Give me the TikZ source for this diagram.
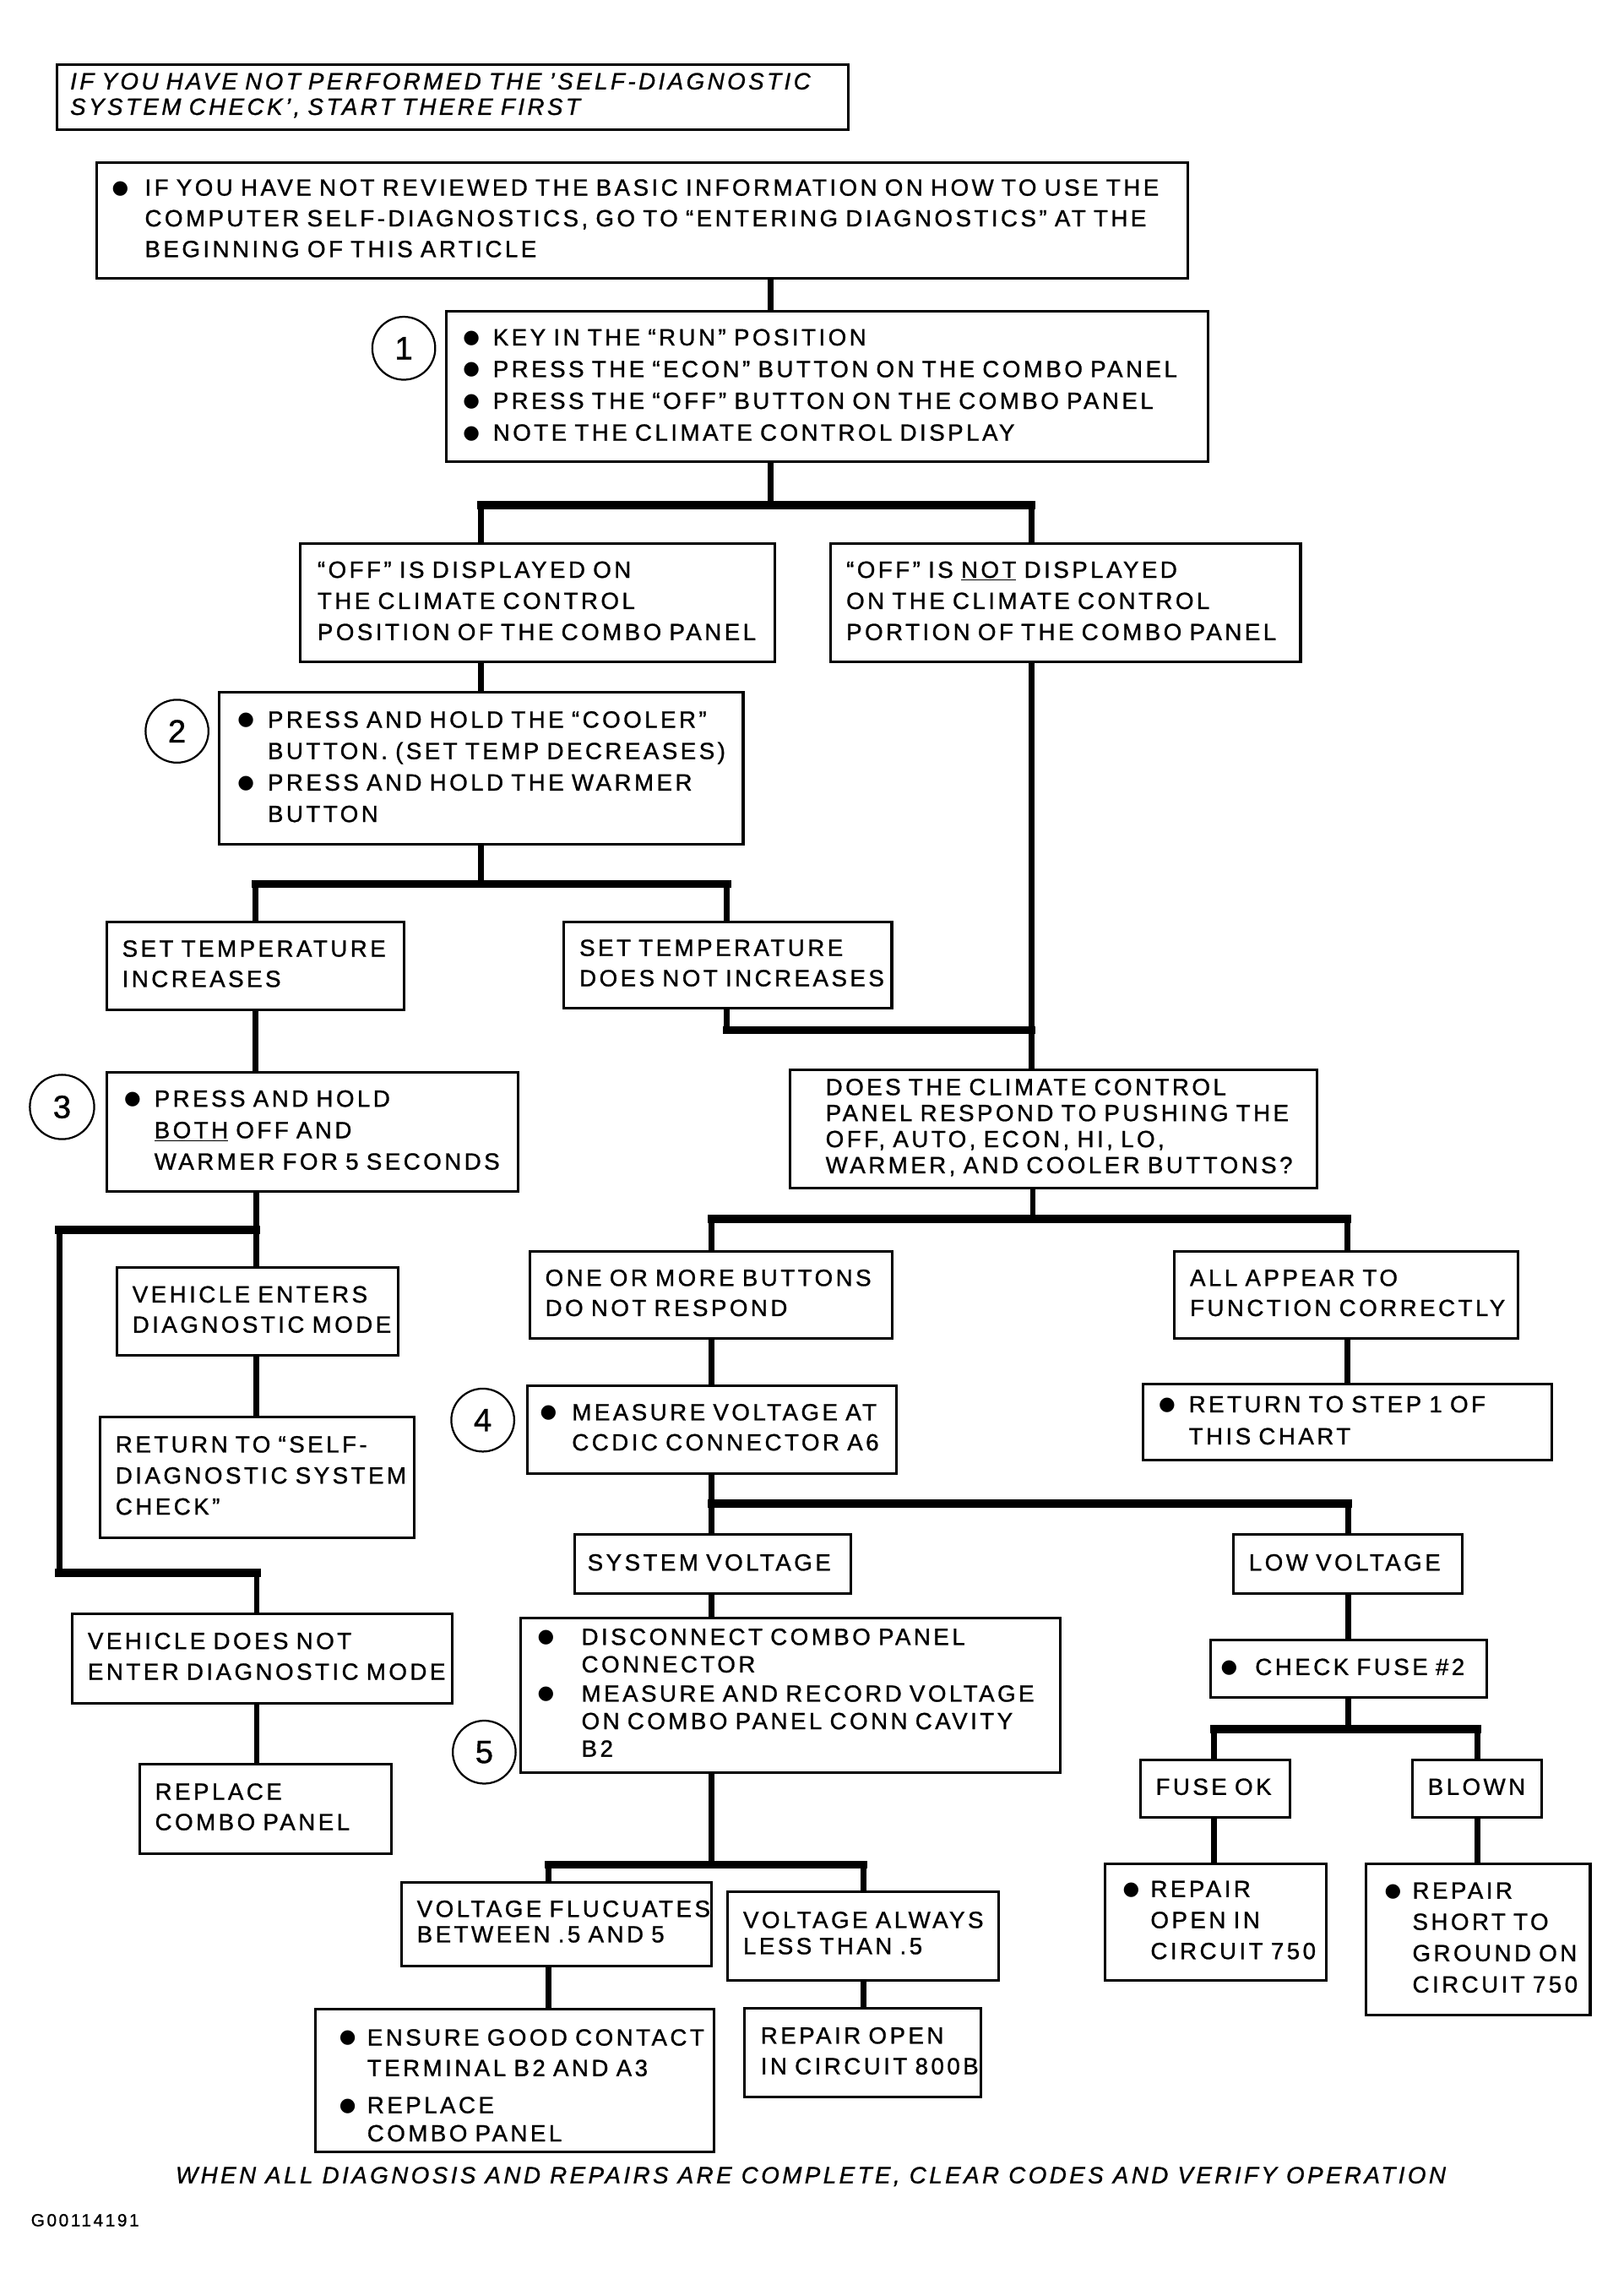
\documentclass[tikz,border=0pt]{standalone}
\usepackage{fontspec}
\setmainfont{Liberation Sans}[LetterSpace=12.5, FakeBold=1]
\newfontfamily\dotfont{DejaVu Sans}
\usepackage{tikz}
\pgfdeclarelayer{bg}
\pgfsetlayers{bg,main}
\newcommand\bul[1][17pt]{\makebox[#1][l]{\hspace*{-3.5pt}\raisebox{1.5pt}{\dotfont\fontsize{13pt}{13pt}\selectfont ●}}}
\newcommand\bsp[1][17pt]{\hspace*{#1}}
\newcommand\boxlines[2][21.5pt]{{\fontsize{16pt}{#1}\selectfont\begin{tabular}{@{}l@{}}#2\end{tabular}}}

\begin{document}
\begin{tikzpicture}[x=1pt, y=-1pt,
        box/.style={draw, line width=1.75pt, fill=white, align=left, inner ysep=1pt, font=\fontsize{16pt}{21.5pt}\selectfont},
        num/.style={draw, circle, line width=1.3pt, fill=white, minimum size=43pt, inner sep=0pt, font=\fontsize{22pt}{22pt}\selectfont},
        conn/.style={line width=4pt},
        bar/.style={line width=5.5pt, line cap=rect}]
        \useasboundingbox (0,0) rectangle (1110,1565);
        \node (n0) [box, minimum width=541pt, minimum height=44.6pt, inner xsep=9pt, text width=523pt] at (309.5, 66.3) {\itshape\boxlines[17.4pt]{IF YOU HAVE NOT PERFORMED THE 'SELF-DIAGNOSTIC\\ SYSTEM CHECK', START THERE FIRST}};
        \node (b0) [box, minimum width=746pt, minimum height=79pt, inner xsep=14pt, text width=718pt] at (439, 150.5) {\boxlines[21pt]{\bul[19pt]IF YOU HAVE NOT REVIEWED THE BASIC INFORMATION ON HOW TO USE THE\\ \bsp[19pt]COMPUTER SELF-DIAGNOSTICS, GO TO “ENTERING DIAGNOSTICS” AT THE\\ \bsp[19pt]BEGINNING OF THIS ARTICLE}};
        \node (b1) [box, minimum width=521pt, minimum height=102.5pt, inner xsep=15pt, text width=491pt] at (565.5, 264.25) {\boxlines[21.7pt]{\bul KEY IN THE “RUN” POSITION\\ \bul PRESS THE “ECON” BUTTON ON THE COMBO PANEL\\ \bul PRESS THE “OFF” BUTTON ON THE COMBO PANEL\\ \bul NOTE THE CLIMATE CONTROL DISPLAY}};
        \node (c1) [num] at (276, 238) {1};
        \node (b2) [box, minimum width=324.5pt, minimum height=81pt, inner xsep=12pt, text width=300.5pt] at (367.25, 411.9) {\boxlines[21.3pt]{“OFF” IS DISPLAYED ON\\ THE CLIMATE CONTROL\\ POSITION OF THE COMBO PANEL}};
        \node (b3) [box, minimum width=321.5pt, minimum height=81pt, inner xsep=11pt, text width=299.5pt] at (728.25, 411.9) {\boxlines[21.3pt]{“OFF” IS \underline{NOT} DISPLAYED\\ ON THE CLIMATE CONTROL\\ PORTION OF THE COMBO PANEL}};
        \node (b4) [box, minimum width=358pt, minimum height=103.7pt, inner xsep=16pt, text width=326pt] at (329, 525.2) {\boxlines{\bul PRESS AND HOLD THE “COOLER”\\ \bsp BUTTON. (SET TEMP DECREASES)\\ \bul PRESS AND HOLD THE WARMER\\ \bsp BUTTON}};
        \node (c2) [num] at (121, 499.7) {2};
        \node (b5) [box, minimum width=203pt, minimum height=60pt, inner xsep=10.5pt, text width=182pt] at (174.5, 660) {\boxlines[20.7pt]{SET TEMPERATURE\\ INCREASES}};
        \node (b6) [box, minimum width=224pt, minimum height=59pt, inner xsep=10.5pt, text width=203pt] at (497.6, 659.5) {\boxlines[20.7pt]{SET TEMPERATURE\\ DOES NOT INCREASES}};
        \node (b7) [box, minimum width=281pt, minimum height=81pt, inner xsep=15.5pt, text width=250pt] at (213.5, 773.5) {\boxlines{\bul PRESS AND HOLD\\ \bsp\underline{BOTH} OFF AND\\ \bsp WARMER FOR 5 SECONDS}};
        \node (c3) [num, minimum size=44pt] at (42.4, 756.5) {3};
        \node (b8) [box, minimum width=360.4pt, minimum height=80.6pt, inner xsep=24.4pt, text width=311.6pt] at (720.2, 771.5) {\boxlines[17.8pt]{DOES THE CLIMATE CONTROL\\ PANEL RESPOND TO PUSHING THE\\ OFF, AUTO, ECON, HI, LO,\\ WARMER, AND COOLER BUTTONS?}};
        \node (b9) [box, minimum width=192.3pt, minimum height=59.8pt, inner xsep=10.5pt, text width=171.3pt] at (176.15, 896.3) {\boxlines[20.6pt]{VEHICLE ENTERS\\ DIAGNOSTIC MODE}};
        \node (b10) [box, minimum width=214.4pt, minimum height=82.8pt, inner xsep=10.4pt, text width=193.6pt] at (175.8, 1009.6) {\boxlines[21.25pt]{RETURN TO “SELF-\\ DIAGNOSTIC SYSTEM\\ CHECK”}};
        \node (b11) [box, minimum width=259.5pt, minimum height=61.1pt, inner xsep=10.5pt, text width=238.5pt] at (179.25, 1133.25) {\boxlines[21pt]{VEHICLE DOES NOT\\ ENTER DIAGNOSTIC MODE}};
        \node (b12) [box, minimum width=171.9pt, minimum height=61.1pt, inner xsep=10.5pt, text width=150.9pt] at (181.45, 1236.15) {\boxlines[20.8pt]{REPLACE\\ COMBO PANEL}};
        \node (b13) [box, minimum width=247.7pt, minimum height=59.3pt, inner xsep=10.7pt, text width=226.3pt] at (485.85, 884.95) {\boxlines[20.6pt]{ONE OR MORE BUTTONS\\ DO NOT RESPOND}};
        \node (b14) [box, minimum width=234.8pt, minimum height=59.3pt, inner xsep=10.6pt, text width=213.6pt] at (920.2, 884.95) {\boxlines[20.6pt]{ALL APPEAR TO\\ FUNCTION CORRECTLY}};
        \node (b15) [box, minimum width=251.8pt, minimum height=60pt, inner xsep=12pt, text width=227.8pt] at (486.6, 976.8) {\boxlines[20.6pt]{\bul[18.3pt]MEASURE VOLTAGE AT\\ \bsp[18.3pt]CCDIC CONNECTOR A6}};
        \node (c4) [num] at (330, 970.5) {4};
        \node (b16) [box, minimum width=279.4pt, minimum height=52.1pt, inner xsep=14pt, text width=251.4pt] at (921.3, 971.75) {\boxlines[21.9pt]{\bul RETURN TO STEP 1 OF\\ \bsp THIS CHART}};
        \node (b17) [box, minimum width=188.8pt, minimum height=40.4pt, inner xsep=9pt, text width=170.8pt] at (487, 1069) {\boxlines{SYSTEM VOLTAGE}};
        \node (b18) [box, minimum width=156.4pt, minimum height=40.4pt, inner xsep=10.7pt, text width=135pt] at (921.2, 1069) {\boxlines{LOW VOLTAGE}};
        \node (b19) [box, minimum width=369.2pt, minimum height=105.9pt, inner xsep=15.2pt, text width=338.8pt] at (540.4, 1158.55) {\boxlines[18.8pt]{\bul[26.5pt]DISCONNECT COMBO PANEL\\ \bsp[26.5pt]CONNECTOR\\[1.2pt] \bul[26.5pt]MEASURE AND RECORD VOLTAGE\\ \bsp[26.5pt]ON COMBO PANEL CONN CAVITY\\ \bsp[26.5pt]B2}};
        \node (c5) [num] at (331, 1197.4) {5};
        \node (b20) [box, minimum width=188.9pt, minimum height=39.6pt, inner xsep=10.5pt, text width=167.9pt] at (921.95, 1140.4) {\boxlines{\bul[20pt]CHECK FUSE \#2}};
        \node (b21) [box, minimum width=102.6pt, minimum height=39.4pt, inner xsep=10.6pt, text width=81.4pt] at (830.7, 1222.3) {\boxlines{FUSE OK}};
        \node (b22) [box, minimum width=88.5pt, minimum height=39.4pt, inner xsep=10.5pt, text width=67.5pt] at (1009.75, 1222.3) {\boxlines{BLOWN}};
        \node (b23) [box, minimum width=151.4pt, minimum height=79.6pt, inner xsep=15.6pt, text width=120.2pt] at (831.1, 1313.4) {\boxlines[21.2pt]{\bul[15.5pt]REPAIR\\ \bsp[15.5pt]OPEN IN\\ \bsp[15.5pt]CIRCUIT 750}};
        \node (b24) [box, minimum width=153.4pt, minimum height=103.4pt, inner xsep=16.4pt, text width=120.6pt] at (1010.3, 1325.3) {\boxlines[21.4pt]{\bul[15.5pt]REPAIR\\ \bsp[15.5pt]SHORT TO\\ \bsp[15.5pt]GROUND ON\\ \bsp[15.5pt]CIRCUIT 750}};
        \node (b25) [box, minimum width=212.2pt, minimum height=57pt, inner xsep=10.6pt, text width=191pt] at (380.5, 1315.2) {\boxlines[17.4pt]{VOLTAGE FLUCUATES\\ BETWEEN .5 AND 5}};
        \node (b26) [box, minimum width=185.3pt, minimum height=60.5pt, inner xsep=10.8pt, text width=163.7pt] at (589.85, 1322.95) {\boxlines[17.9pt]{VOLTAGE ALWAYS\\ LESS THAN .5}};
        \node (b27) [box, minimum width=272.3pt, minimum height=92.4pt, inner xsep=19.8pt, text width=232.7pt] at (351.85, 1421.8) {\boxlines[20.9pt]{\rule{0pt}{24pt}\bul[15.5pt]ENSURE GOOD CONTACT\\ \bsp[15.5pt]TERMINAL B2 AND A3\\[4.4pt] \bul[15.5pt]REPLACE\\[-1.6pt] \bsp[15.5pt]COMBO PANEL}};
        \node (b28) [box, minimum width=161.5pt, minimum height=60.6pt, inner xsep=11pt, text width=139.5pt] at (589.75, 1402.9) {\boxlines[21pt]{REPAIR OPEN\\ IN CIRCUIT 800B}};
        \node (f0) [font=\itshape\fontsize{16pt}{18pt}\selectfont] at (554.2, 1487.5) {WHEN ALL DIAGNOSIS AND REPAIRS ARE COMPLETE, CLEAR CODES AND VERIFY OPERATION};
        \node (g0) [anchor=west, inner sep=0pt, font=\fontsize{12pt}{14pt}\selectfont] at (21, 1517.3) {G00114191};
        \coordinate (j0) at (527, 345.2);
        \coordinate (j1a) at (329, 345.2);
        \coordinate (j1b) at (705, 345.2);
        \coordinate (j2) at (329, 604);
        \coordinate (j2a) at (174.5, 604);
        \coordinate (j2b) at (497, 604);
        \coordinate (j3a) at (497, 704);
        \coordinate (j3b) at (705, 704);
        \coordinate (j4) at (175, 840.6);
        \coordinate (j4a) at (40.5, 840.6);
        \coordinate (j5) at (175.5, 1075);
        \coordinate (j5a) at (40.5, 1075);
        \coordinate (j6) at (706, 833);
        \coordinate (j6a) at (486.6, 833);
        \coordinate (j6b) at (921, 833);
        \coordinate (j7a) at (486.6, 1027.4);
        \coordinate (j7b) at (921.5, 1027.4);
        \coordinate (j8) at (921.5, 1181.7);
        \coordinate (j8a) at (829.7, 1181.7);
        \coordinate (j8b) at (1010, 1181.7);
        \coordinate (j9) at (486.6, 1274.2);
        \coordinate (j9a) at (375, 1274.2);
        \coordinate (j9b) at (590, 1274.2);
        \begin{pgfonlayer}{bg}
                \draw (b0.south -| j0) edge [conn] (b1.north -| j0);
                \draw [conn] (b1.south -| j0) -- (j0);
                \draw [bar] (j1a) -- (j1b);
                \draw (j1a) edge [conn] (j1a |- b2.north);
                \draw (j1b) edge [conn] (j1b |- b3.north);
                \draw (b2.south -| j1a) edge [conn] (b4.north -| j1a);
                \draw [conn] (b4.south -| j2) -- (j2);
                \draw [bar] (j2a) -- (j2b);
                \draw (j2a) edge [conn] (j2a |- b5.north);
                \draw (j2b) edge [conn] (j2b |- b6.north);
                \draw (b3.south -| j1b) edge [conn] (b8.north -| j1b);
                \draw [conn] (b6.south -| j3a) -- (j3a);
                \draw [bar] (j3a) -- (j3b);
                \draw (b5.south -| j2a) edge [conn] (b7.north -| j2a);
                \draw (b7.south -| j4) edge [conn] (b9.north -| j4);
                \draw [bar] (j4a) -- (j4);
                \draw [conn] (j4a) -- (j5a);
                \draw [bar] (j5a) -- (j5);
                \draw (j5) edge [conn] (j5 |- b11.north);
                \draw (b9.south -| j4) edge [conn] (b10.north -| j4);
                \draw (b11.south -| j5) edge [conn] (b12.north -| j5);
                \draw [conn] (b8.south -| j6) -- (j6);
                \draw [bar] (j6a) -- (j6b);
                \draw (j6a) edge [conn] (j6a |- b13.north);
                \draw (j6b) edge [conn] (j6b |- b14.north);
                \draw (b13.south -| j6a) edge [conn] (b15.north -| j6a);
                \draw (b14.south -| j6b) edge [conn] (b16.north -| j6b);
                \draw [conn] (b15.south -| j7a) -- (j7a);
                \draw [bar] (j7a) -- (j7b);
                \draw (j7a) edge [conn] (j7a |- b17.north);
                \draw (j7b) edge [conn] (j7b |- b18.north);
                \draw (b17.south -| j7a) edge [conn] (b19.north -| j7a);
                \draw (b18.south -| j7b) edge [conn] (b20.north -| j7b);
                \draw [conn] (b20.south -| j8) -- (j8);
                \draw [bar] (j8a) -- (j8b);
                \draw (j8a) edge [conn] (j8a |- b21.north);
                \draw (j8b) edge [conn] (j8b |- b22.north);
                \draw (b21.south -| j8a) edge [conn] (b23.north -| j8a);
                \draw (b22.south -| j8b) edge [conn] (b24.north -| j8b);
                \draw [conn] (b19.south -| j9) -- (j9);
                \draw [bar] (j9a) -- (j9b);
                \draw (j9a) edge [conn] (j9a |- b25.north);
                \draw (j9b) edge [conn] (j9b |- b26.north);
                \draw (b25.south -| j9a) edge [conn] (b27.north -| j9a);
                \draw (b26.south -| j9b) edge [conn] (b28.north -| j9b);
        \end{pgfonlayer}
\end{tikzpicture}
\end{document}
